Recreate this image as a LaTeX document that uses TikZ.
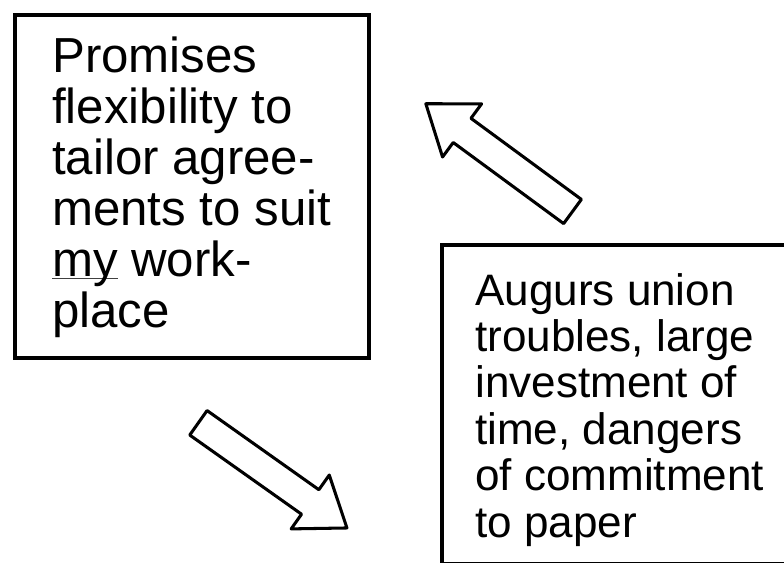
\documentclass[tikz,border=0pt]{standalone}
\usepackage{fontspec}
\setmainfont{Liberation Sans}
\usetikzlibrary{positioning}

% sottolineatura sottile, appena sotto la linea di base
\newcommand{\ulword}[1]{\setbox0\hbox{#1}\rlap{\color{black!75}\rule[-0.065em]{\wd0}{0.035em}}#1}

\begin{document}
\begin{tikzpicture}[x=0.03cm, y=-0.03cm,
    box/.style={draw, line width=3.4pt, inner sep=0pt, anchor=north west},
    boxtext/.style={anchor=north west, inner sep=0pt, align=left},
    fat arrow/.pic={
      \draw[line width=2.6pt, line join=round]
        (0,-15) -- (137,-15) -- (137,-33) -- (182,0) -- (137,33) -- (137,15) -- (0,15) -- cycle;
    }]
  \useasboundingbox (0,0) rectangle (784,563);
  \clip (0,0) rectangle (784,563);

  % --- riquadro a sinistra ---
  \node[box, minimum width=10.62cm, minimum height=10.29cm] (prom) at (13,13) {};
  \node[boxtext, font=\fontsize{42}{43.5}\selectfont]
    (promtxt) at ([xshift=1.17cm, yshift=-0.7cm]prom.north west)
    {Promises\\flexibility to\\tailor agree-\\ments to suit\\\ulword{my} work-\\place};

  % --- riquadro a destra (tagliato dal bordo) ---
  \node[box, minimum width=10.8cm, minimum height=9.57cm] (aug) at (440,243) {};
  \node[boxtext, font=\fontsize{37.6}{39.6}\selectfont]
    (augtxt) at ([xshift=1.05cm, yshift=-0.9cm]aug.north west)
    {Augurs union\\troubles, large\\investment of\\time, dangers\\of commitment\\to paper};

  % --- frecce vuote ---
  \foreach \x/\y/\a in {572.5/211.5/143.7, 198.4/422.8/-35.3}
    \pic[rotate=\a] at (\x,\y) {fat arrow};
\end{tikzpicture}
\end{document}
